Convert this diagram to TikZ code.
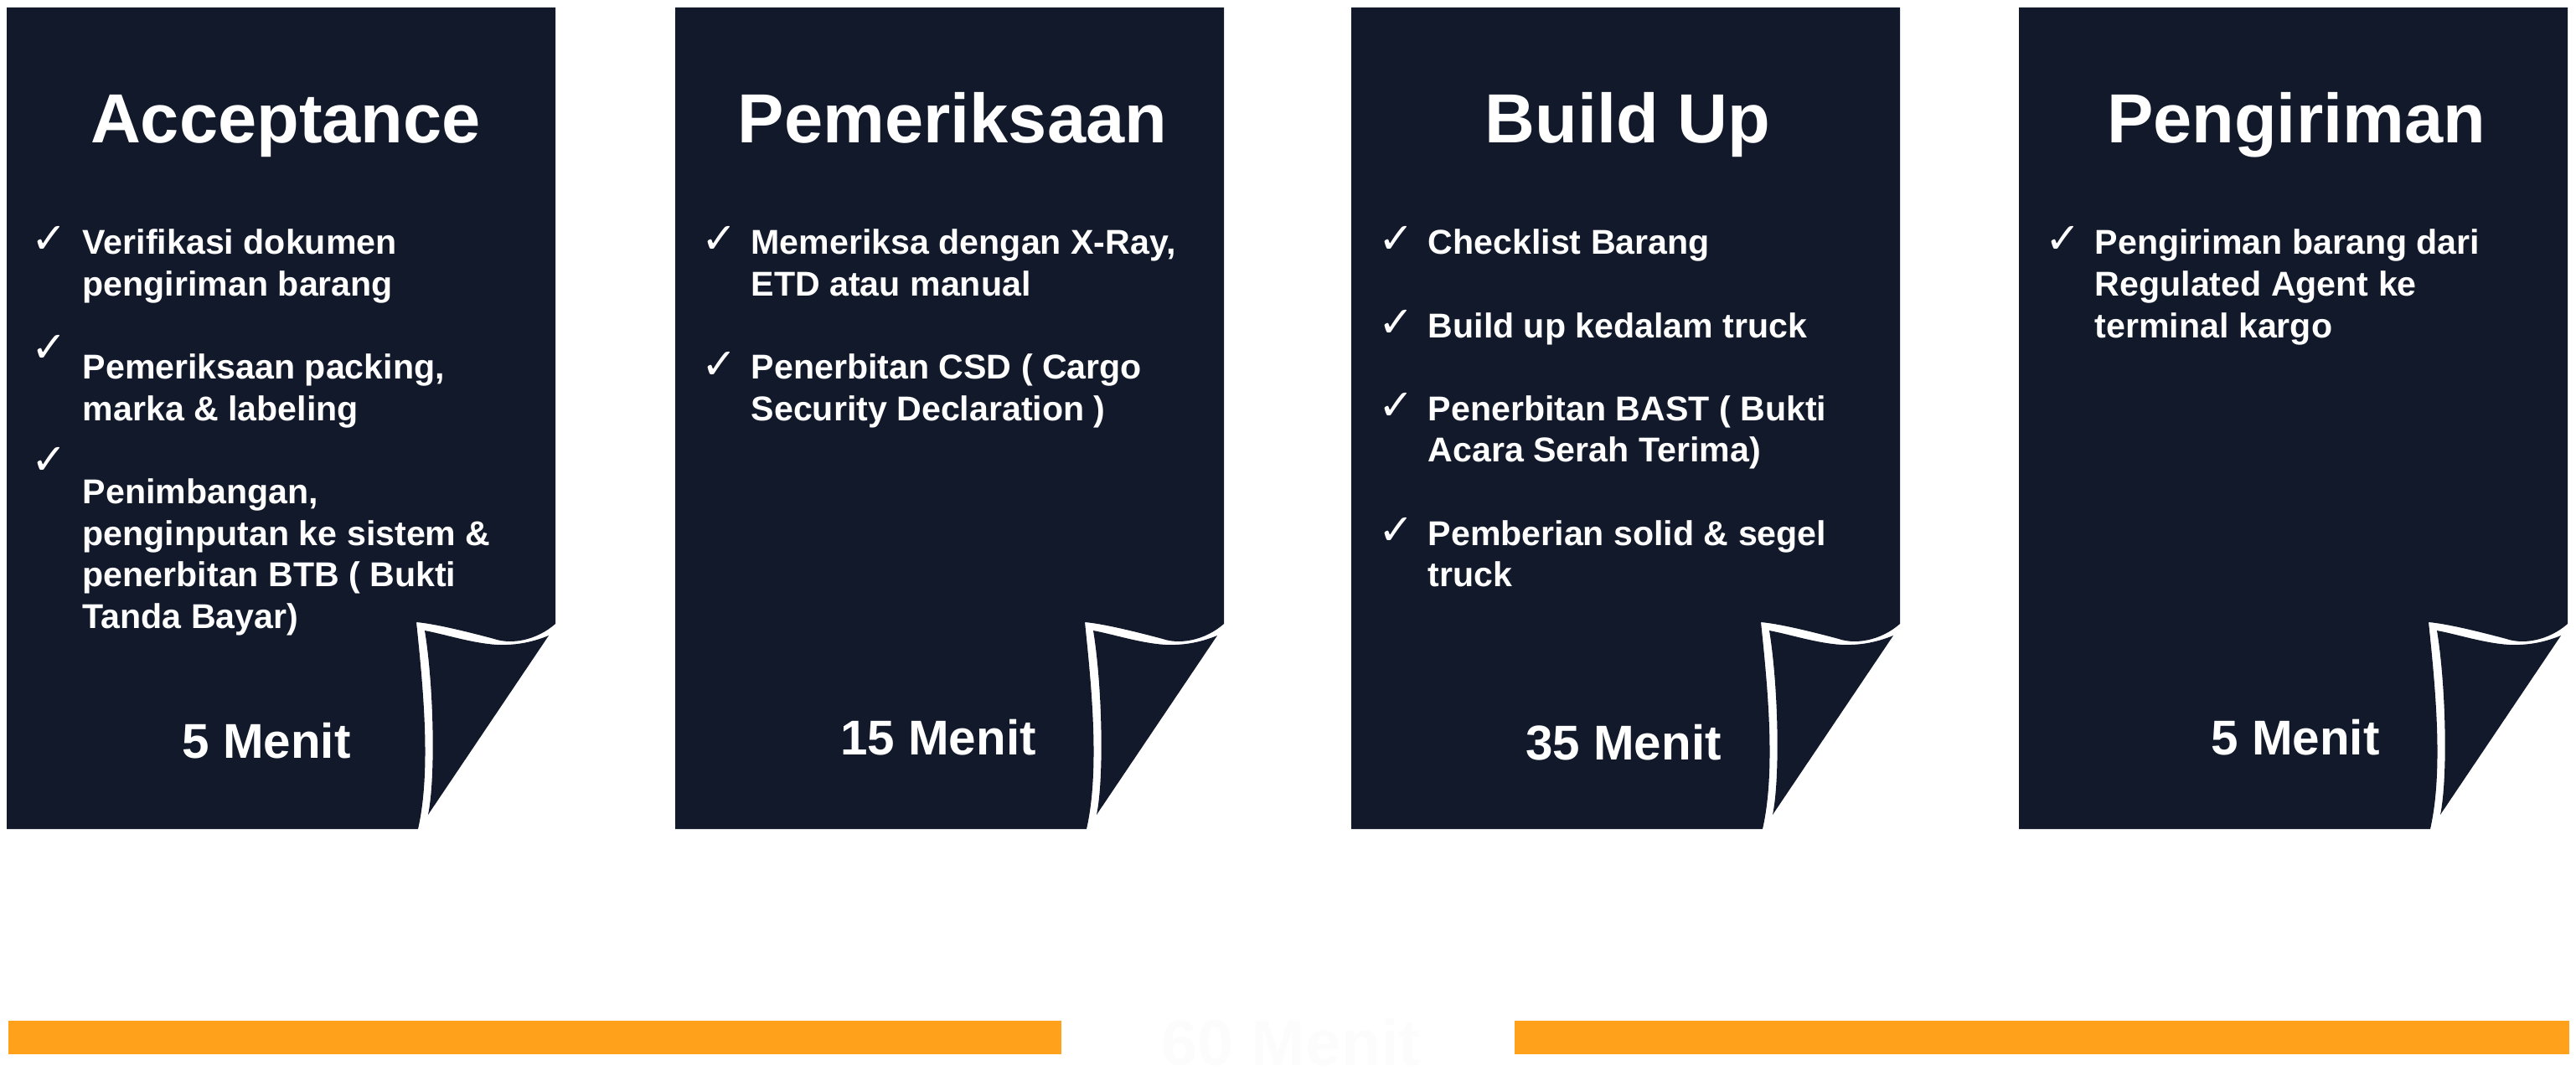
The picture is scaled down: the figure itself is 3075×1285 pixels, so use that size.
\documentclass[tikz,border=0pt]{standalone}
\usepackage{fontspec}
\setmainfont{Liberation Sans}
\newfontfamily\checkfont{DejaVu Sans}
\usepackage{tikz}
\definecolor{navy}{RGB}{17,25,43}
\definecolor{barorange}{RGB}{255,161,26}
\tikzstyle{titletext}=[text=white,inner sep=0pt,anchor=base,
                      font=\fontsize{23.6pt}{28pt}\selectfont\bfseries]
\tikzstyle{itemtext}=[text=white,inner sep=0pt,anchor=base west,
                      font=\fontsize{11.7pt}{14.1pt}\selectfont\bfseries]
\tikzstyle{checktext}=[text=white,inner sep=0pt,anchor=base west,
                      font=\fontsize{14.5pt}{16pt}\selectfont\checkfont]
\tikzstyle{timetext}=[text=white,inner sep=0pt,anchor=base,
                      font=\fontsize{16.6pt}{20pt}\selectfont\bfseries]
\newcommand{\itemlines}[1]{\parbox[t]{6cm}{#1}}

\begin{document}
\begin{tikzpicture}[x=0.01cm,y=-0.01cm]
    \useasboundingbox (0,0) rectangle (3075,1285);
    % page with a curled corner, #1 = left edge
    \newcommand{\pagecard}[1]{
      \fill[navy] (#1,9) -- (#1+655,9) -- (#1+655,745)
        .. controls (#1+632,765) and (#1+602,770) .. (#1+582,763)
        .. controls (#1+552,755) and (#1+512,745) .. (#1+489,743)
        .. controls (#1+497,820) and (#1+507,920) .. (#1+491,990)
        -- (#1,990) -- cycle;
      \fill[navy] (#1+499,753)
        .. controls (#1+525,758) and (#1+555,768) .. (#1+585,770)
        .. controls (#1+610,771) and (#1+630,766) .. (#1+647,759)
        -- (#1+503,973)
        .. controls (#1+512,930) and (#1+510,820) .. (#1+499,753) -- cycle;
    }
    \pagecard{8}
    \pagecard{806}
    \pagecard{1613}
    \pagecard{2410}

    \node (ttl1) at (341,171) [titletext]{Acceptance};
    \node (ttl2) at (1137,171) [titletext]{Pemeriksaan};
    \node (ttl3) at (1943,171) [titletext]{Build Up};
    \node (ttl4) at (2741,171) [titletext]{Pengiriman};

    \node (chk1a) at (37,302) [checktext]{✓};
    \node (chk1b) at (37,432) [checktext]{✓};
    \node (chk1c) at (37,566) [checktext]{✓};
    \node (itm1a) at (98,304) [itemtext]{\itemlines{Verifikasi dokumen\\pengiriman barang}};
    \node (itm1b) at (98,452.8) [itemtext]{\itemlines{Pemeriksaan packing,\\marka \& labeling}};
    \node (itm1c) at (98,601.6) [itemtext]{\itemlines{Penimbangan,\\penginputan ke sistem \&\\penerbitan BTB ( Bukti\\Tanda Bayar)}};

    \node (chk2a) at (837,303) [checktext]{✓};
    \node (chk2b) at (837,452) [checktext]{✓};
    \node (itm2a) at (896,304) [itemtext]{\itemlines{Memeriksa dengan X-Ray,\\ETD atau manual}};
    \node (itm2b) at (896,452.8) [itemtext]{\itemlines{Penerbitan CSD ( Cargo\\Security Declaration )}};

    \node (chk3a) at (1645,303) [checktext]{✓};
    \node (chk3b) at (1645,402) [checktext]{✓};
    \node (chk3c) at (1645,501) [checktext]{✓};
    \node (chk3d) at (1645,650) [checktext]{✓};
    \node (itm3a) at (1704,304) [itemtext]{\itemlines{Checklist Barang}};
    \node (itm3b) at (1704,403.2) [itemtext]{\itemlines{Build up kedalam truck}};
    \node (itm3c) at (1704,502.4) [itemtext]{\itemlines{Penerbitan BAST ( Bukti\\Acara Serah Terima)}};
    \node (itm3d) at (1704,651.2) [itemtext]{\itemlines{Pemberian solid \& segel\\truck}};

    \node (chk4a) at (2441,302) [checktext]{✓};
    \node (itm4a) at (2500,304) [itemtext]{\itemlines{Pengiriman barang dari\\Regulated Agent ke\\terminal kargo}};

    \node (tm1) at (318,905) [timetext]{5 Menit};
    \node (tm2) at (1120,901) [timetext]{15 Menit};
    \node (tm3) at (1938,907) [timetext]{35 Menit};
    \node (tm4) at (2740,901) [timetext]{5 Menit};

    % total time bar
    \fill[barorange] (10,1219) rectangle (1267,1259);
    \fill[barorange] (1808,1219) rectangle (3067,1259);
    \node (total) at (1541,1272) [timetext,text=white!99!black,
          font=\fontsize{22pt}{26pt}\selectfont\bfseries]{60 Menit};
\end{tikzpicture}
\end{document}
